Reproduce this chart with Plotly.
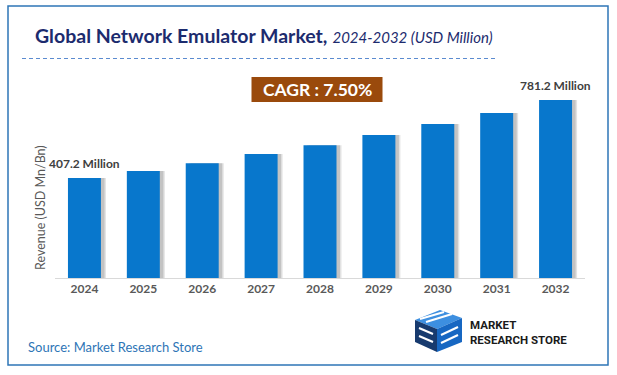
import plotly.graph_objects as go

# ---- data ----
years = ["2024", "2025", "2026", "2027", "2028", "2029", "2030", "2031", "2032"]
revenue = [407.2, 440.8, 477.7, 522.3, 564.0, 613.4, 666.0, 718.9, 781.2]
first_label = "407.2 Million"
last_label = "781.2 Million"
cagr_text = "CAGR : 7.50%"
title_bold = "Global Network Emulator Market,"
title_italic = "2024-2032 (USD Million)"
y_title = "Revenue (USD Mn/Bn)"
source_text = "Source: Market Research Store"

W, H = 617, 375
AXIS_FLOOR = -72.3   # value axis floor of the original (bars start here)
AXIS_TOP = 972.7

FONT = "Lato, Carlito, Calibri, sans-serif"
BAR_COLOR = "#0877CC"


def px(x):
    return x / W


def py(y):
    return 1 - y / H


fig = go.Figure()

bar_len = [v - AXIS_FLOOR for v in revenue]

# soft bar drop shadow (two layers)
for shift, alpha in [(0.085, 0.16), (0.06, 0.22)]:
    fig.add_trace(go.Bar(
        x=years, y=bar_len, base=AXIS_FLOOR,
        width=0.56, offset=-0.28 + shift,
        marker=dict(color=f"rgba(80,80,80,{alpha})", line=dict(width=0)),
        hoverinfo="skip", showlegend=False,
    ))
# main bars
fig.add_trace(go.Bar(
    x=years, y=bar_len, base=AXIS_FLOOR,
    width=0.56, offset=-0.28,
    marker=dict(color=BAR_COLOR, line=dict(width=0)),
    customdata=revenue, hovertemplate="%{x}: %{customdata}<extra></extra>",
    showlegend=False,
))

annotations = [
    # title
    dict(x=px(33), y=py(35.5), xref="paper", yref="paper", xanchor="left", yanchor="middle",
         text=f"<b>{title_bold}</b> <i><span style='font-size:15px'>{title_italic}</span></i>",
         showarrow=False, font=dict(family=FONT, size=19.5, color="#1C2B6E")),
    # CAGR
    dict(x=px(317), y=py(89.5), xref="paper", yref="paper", xanchor="center", yanchor="middle",
         text=f"<b>{cagr_text}</b>", showarrow=False,
         font=dict(family=FONT, size=17.5, color="white")),
    # y title
    dict(x=px(40), y=py(208), xref="paper", yref="paper", xanchor="center", yanchor="middle",
         text=y_title, textangle=-90, showarrow=False,
         font=dict(family=FONT, size=12.5, color="#595959")),
    # value labels (category index positions)
    dict(x=0, y=revenue[0], xref="x", yref="y", yanchor="bottom", yshift=5,
         text=f"<b>{first_label}</b>", showarrow=False,
         font=dict(family=FONT, size=12, color="#404040")),
    dict(x=len(years) - 1, y=revenue[-1], xref="x", yref="y", yanchor="bottom", yshift=5,
         text=f"<b>{last_label}</b>", showarrow=False,
         font=dict(family=FONT, size=12, color="#404040")),
    # source
    dict(x=px(26), y=py(347), xref="paper", yref="paper", xanchor="left", yanchor="middle",
         text=source_text, showarrow=False,
         font=dict(family=FONT, size=13, color="#2E75B6")),
    # logo text
    dict(x=px(468), y=py(332.5), xref="paper", yref="paper", xanchor="left", yanchor="middle",
         align="left", text="<b>MARKET<br>RESEARCH STORE</b>", showarrow=False,
         font=dict(family="Liberation Sans Narrow, Roboto, sans-serif", size=11.5, color="#1a1a1a")),
]


def poly(points, color):
    path = "M " + " L ".join(f"{px(a):.5f},{py(b):.5f}" for a, b in points) + " Z"
    return dict(type="path", xref="paper", yref="paper", path=path,
                fillcolor=color, line=dict(color=color, width=0), layer="above")


shapes = [
    # outer border
    dict(type="rect", xref="paper", yref="paper", x0=px(8), x1=px(608), y0=py(365), y1=py(6),
         line=dict(color="#2E75B6", width=1.5), fillcolor="rgba(0,0,0,0)", layer="below"),
    # dashed separator
    dict(type="line", xref="paper", yref="paper", x0=px(22), x1=px(495), y0=py(58.5), y1=py(58.5),
         line=dict(color="#5B8BD0", width=1, dash="4px,3px")),
    # CAGR box
    dict(type="rect", xref="paper", yref="paper", x0=px(251.5), x1=px(382.5), y0=py(102), y1=py(77),
         line=dict(width=0), fillcolor="#9A4A0C", layer="below"),
    # logo cube
    poly([(415, 320), (440, 310), (462, 318), (437, 329)], "#3D8FE0"),
    poly([(415, 320), (437, 329), (437, 352), (415, 342)], "#173A6E"),
    poly([(437, 329), (462, 318), (462, 342), (437, 352)], "#1767C2"),
]
for seg in [((420, 319), (444, 312)), ((426, 322), (452, 314)), ((441, 335), (458, 327)),
            ((441, 343), (458, 335)), ((419, 328), (433, 334)), ((419, 336), (433, 342))]:
    (x0, y0), (x1, y1) = seg
    shapes.append(dict(type="line", xref="paper", yref="paper",
                       x0=px(x0), y0=py(y0), x1=px(x1), y1=py(y1),
                       line=dict(color="white", width=2), layer="above"))

fig.update_layout(
    width=W, height=H,
    margin=dict(l=0, r=0, t=0, b=0, pad=0),
    paper_bgcolor="white", plot_bgcolor="rgba(0,0,0,0)",
    barmode="overlay",
    showlegend=False,
    font=dict(family=FONT),
    annotations=annotations,
    shapes=shapes,
    xaxis=dict(type="category", categoryorder="array", categoryarray=years,
               range=[-0.5, len(years) - 0.5], domain=[px(55), px(585)],
               showgrid=False, showline=True, linecolor="#D9D9D9", linewidth=1,
               ticks="", tickfont=dict(family=FONT, size=12, color="#595959", weight="bold"),
               fixedrange=True),
    yaxis=dict(range=[AXIS_FLOOR, AXIS_TOP], domain=[py(278), py(60)],
               showgrid=False, showticklabels=False,
               zeroline=False, showline=False, fixedrange=True),
)

fig.write_html(
    "out.html",
    config={"displayModeBar": False},
    post_script="document.body.style.margin='0';document.body.style.overflow='hidden';",
)
